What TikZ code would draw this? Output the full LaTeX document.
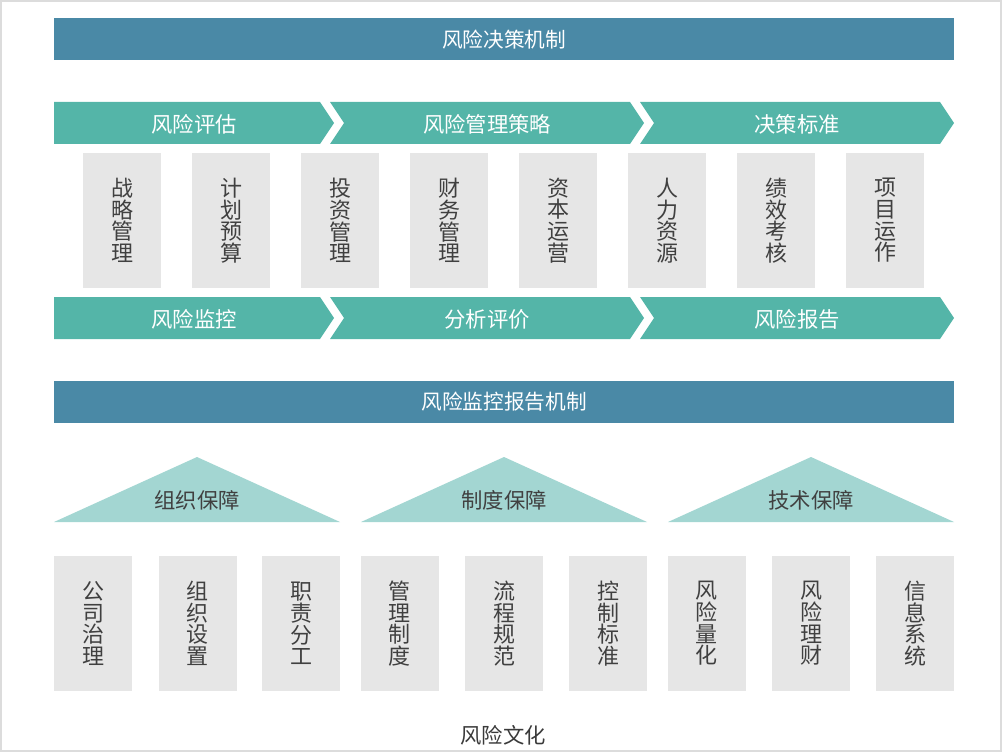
\documentclass[tikz,border=0pt]{standalone}
\usepackage{fontspec}
\setmainfont{Noto Sans CJK SC}
\definecolor{barblue}{HTML}{4A89A6}
\definecolor{chevteal}{HTML}{54B5A8}
\definecolor{trilight}{HTML}{A3D6D2}
\definecolor{boxgray}{HTML}{E6E6E6}
\definecolor{txtgray}{HTML}{404040}
\definecolor{framegray}{HTML}{DCDCDC}
\tikzset{
  bartext/.style={text=white, font=\fontsize{15.5}{18}\selectfont, inner sep=0pt},
  chevtext/.style={text=white, font=\fontsize{16}{18}\selectfont, inner sep=0pt},
  tritext/.style={text=txtgray, font=\fontsize{16}{18}\selectfont, inner sep=0pt},
  vbox/.style={fill=boxgray, draw=none, minimum width=58.5pt, minimum height=101.25pt, inner sep=0pt,
    text=txtgray, align=center, font=\fontsize{16.5}{16.2}\selectfont},
  barfill/.style={fill=barblue, draw=none},
  chevfill/.style={fill=chevteal, draw=none},
  trifill/.style={fill=trilight, draw=none},
}
\begin{document}
\begin{tikzpicture}[x=0.75pt, y=-0.75pt]
\useasboundingbox (0,0) rectangle (1002,752);
\draw[framegray, line width=1.2pt] (1,1) rectangle (1001,751);

% top bar
\fill[barfill] (54,18) rectangle (954,60);
\node[bartext] (bar1) at (504,40) {风险决策机制};

% chevron row 1
\fill[chevfill] (54,102) -- (320,102) -- (334,123) -- (320,144) -- (54,144) -- cycle;
\fill[chevfill] (330,102) -- (630,102) -- (644,123) -- (630,144) -- (330,144) -- (344,123) -- cycle;
\fill[chevfill] (640,102) -- (940,102) -- (954,123) -- (940,144) -- (640,144) -- (654,123) -- cycle;
\node[chevtext] (c11) at (194,124) {风险评估};
\node[chevtext] (c12) at (487,124) {风险管理策略};
\node[chevtext] (c13) at (797,124) {决策标准};

% gray boxes
\node[vbox] (b1) at (122,220.5) {战\\略\\管\\理};
\node[vbox] (b2) at (231,220.5) {计\\划\\预\\算};
\node[vbox] (b3) at (340,220.5) {投\\资\\管\\理};
\node[vbox] (b4) at (449,220.5) {财\\务\\管\\理};
\node[vbox] (b5) at (558,220.5) {资\\本\\运\\营};
\node[vbox] (b6) at (667,220.5) {人\\力\\资\\源};
\node[vbox] (b7) at (776,220.5) {绩\\效\\考\\核};
\node[vbox] (b8) at (885,220.5) {项\\目\\运\\作};

% chevron row 2
\fill[chevfill] (54,297) -- (320,297) -- (334,318) -- (320,339) -- (54,339) -- cycle;
\fill[chevfill] (330,297) -- (630,297) -- (644,318) -- (630,339) -- (330,339) -- (344,318) -- cycle;
\fill[chevfill] (640,297) -- (940,297) -- (954,318) -- (940,339) -- (640,339) -- (654,318) -- cycle;
\node[chevtext] (c21) at (194,319) {风险监控};
\node[chevtext] (c22) at (487,319) {分析评价};
\node[chevtext] (c23) at (797,319) {风险报告};

% second bar
\fill[barfill] (54,381) rectangle (954,423);
\node[bartext] (bar2) at (504,402) {风险监控报告机制};

% triangles
\fill[trifill] (54,522) -- (197,457) -- (340,522) -- cycle;
\fill[trifill] (361,522) -- (504,457) -- (647,522) -- cycle;
\fill[trifill] (668,522) -- (811,457) -- (954,522) -- cycle;
\node[tritext] (t1) at (197,500) {组织保障};
\node[tritext] (t2) at (504,500) {制度保障};
\node[tritext] (t3) at (811,500) {技术保障};

% bottom boxes
\node[vbox] (d1) at (93,623.5) {公\\司\\治\\理};
\node[vbox] (d2) at (197.5,623.5) {组\\织\\设\\置};
\node[vbox] (d3) at (301,623.5) {职\\责\\分\\工};
\node[vbox] (d4) at (399.5,623.5) {管\\理\\制\\度};
\node[vbox] (d5) at (504,623.5) {流\\程\\规\\范};
\node[vbox] (d6) at (608,623.5) {控\\制\\标\\准};
\node[vbox] (d7) at (706.5,623.5) {风\\险\\量\\化};
\node[vbox] (d8) at (811,623.5) {风\\险\\理\\财};
\node[vbox] (d9) at (915,623.5) {信\\息\\系\\统};

\node[tritext, text=txtgray!90!black] (culture) at (503,735) {风险文化};
\end{tikzpicture}
\end{document}
